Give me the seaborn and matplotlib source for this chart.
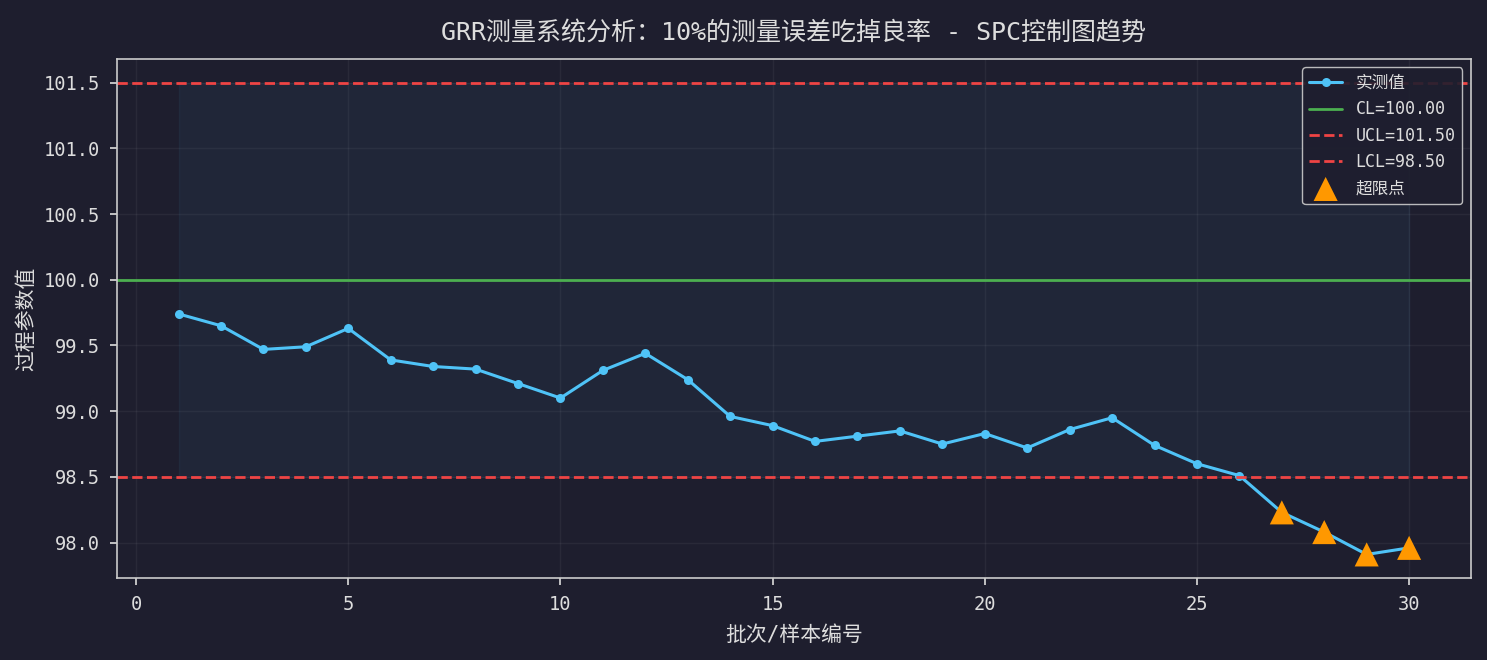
import numpy as np
import matplotlib
matplotlib.use("Agg")
import matplotlib.pyplot as plt
import seaborn as sns
import pandas as pd

# 批次编号 / 实测值
batch = list(range(1, 31))
measured = [99.74, 99.65, 99.47, 99.49, 99.63, 99.39, 99.34, 99.32, 99.21, 99.10,
            99.31, 99.44, 99.24, 98.96, 98.89, 98.77, 98.81, 98.85, 98.75, 98.83,
            98.72, 98.86, 98.95, 98.74, 98.60, 98.51, 98.23, 98.08, 97.91, 97.96]
CL = 100.00
UCL = 101.50
LCL = 98.50

df = pd.DataFrame({"batch": batch, "value": measured})
out = df[(df["value"] > UCL) | (df["value"] < LCL)]

bg = "#1e1e2e"
sns.set_theme(style="dark")
plt.rcParams["font.family"] = ["DejaVu Sans Mono", "Noto Sans CJK SC"]
plt.rcParams.update({
    "figure.facecolor": bg,
    "axes.facecolor": bg,
    "axes.edgecolor": "#cccccc",
    "axes.labelcolor": "#dddddd",
    "xtick.color": "#dddddd",
    "ytick.color": "#dddddd",
    "text.color": "#dddddd",
    "axes.unicode_minus": False,
    "xtick.bottom": True,
    "ytick.left": True,
})

fig, ax = plt.subplots(figsize=(14.87, 6.6), dpi=100)
fig.subplots_adjust(left=0.0787, right=0.989, top=0.9106, bottom=0.1242)

ax.fill_between(df["batch"], LCL, UCL, color="#4fc3f7", alpha=0.05)
sns.lineplot(data=df, x="batch", y="value", ax=ax, color="#4fc3f7", linewidth=2.2,
             marker="o", markersize=6.5, markeredgewidth=0, label="实测值")
ax.axhline(CL, color="#4caf50", linewidth=2, label=f"CL={CL:.2f}")
ax.axhline(UCL, color="#ef4444", linewidth=2, linestyle="--", label=f"UCL={UCL:.2f}")
ax.axhline(LCL, color="#ef4444", linewidth=2, linestyle="--", label=f"LCL={LCL:.2f}")
sns.scatterplot(data=out, x="batch", y="value", ax=ax, color="#ff9800", marker="^",
                s=300, edgecolor="none", zorder=5, label="超限点")

ax.grid(True, color="#ffffff", alpha=0.05)
for s in ax.spines.values():
    s.set_color("#cccccc")
    s.set_linewidth(1.2)
ax.tick_params(labelsize=13.5, length=5, width=1.2, pad=7)

ax.set_title("GRR测量系统分析：10%的测量误差吃掉良率 - SPC控制图趋势", fontsize=18, pad=14)
ax.set_xlabel("批次/样本编号", fontsize=15, labelpad=8)
ax.set_ylabel("过程参数值", fontsize=15, labelpad=6)

leg = ax.legend(loc="upper right", fontsize=12, facecolor=bg, edgecolor="#cccccc",
                framealpha=0.9)
for t in leg.get_texts():
    t.set_color("#dddddd")

plt.savefig("out.png", dpi=100, facecolor=bg)
